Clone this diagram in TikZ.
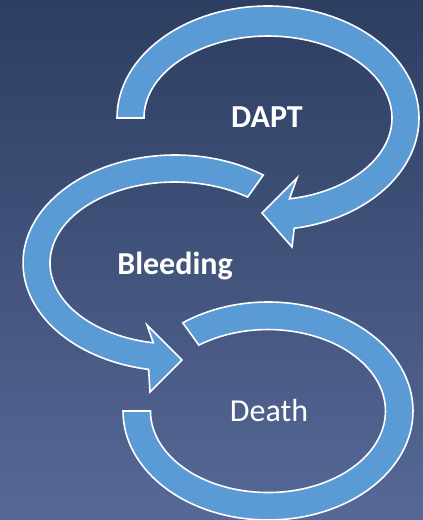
\documentclass[tikz,border=0pt]{standalone}
\usepackage{fontspec}
\setmainfont{Carlito}
\usepackage{tikz}
\definecolor{slidetop}{RGB}{45,62,97}
\definecolor{slidebot}{RGB}{86,104,150}
\definecolor{ringblue}{RGB}{91,155,213}
\tikzstyle{band} = [fill=ringblue, draw=white, line width=1.6pt, line join=miter]
\tikzstyle{word} = [text=white, anchor=base, inner sep=0pt, font=\fontsize{32}{38}\selectfont]

\begin{document}
\begin{tikzpicture}[x=1pt, y=1pt]
	\useasboundingbox (0,0) rectangle (423,520);
	\shade[top color=slidetop, bottom color=slidebot] (0,0) rectangle (423,520);
	\coordinate (dapt) at (267,392);
	\coordinate (bleed) at (175,245);
	\coordinate (death) at (269,98);
	\draw[band] (117,402)
		arc[start angle=180, end angle=-80, x radius=151pt, y radius=112pt]
		-- (292,273) -- (262,307) -- (297,342)
		-- (289.5,321.2)
		arc[start angle=-80, end angle=180, x radius=124pt, y radius=82pt]
		-- cycle;
	\draw[band] (263.3,344.9)
		arc[start angle=54.5, end angle=260, x radius=152pt, y radius=108pt]
		-- (150,128) -- (182,160) -- (147,195)
		-- (153.3,177.2)
		arc[start angle=260, end angle=54.5, x radius=125pt, y radius=81pt]
		-- cycle;
	\draw[band] (123,109)
		arc[start angle=180, end angle=486, x radius=145pt, y radius=109pt]
		-- (198.9,174.9)
		arc[start angle=486, end angle=180, x radius=117.5pt, y radius=81.5pt]
		-- cycle;
	\node[word, font=\bfseries\fontsize{32}{38}\selectfont] (daptlabel) at (dapt) {DAPT};
	\node[word, font=\bfseries\fontsize{32}{38}\selectfont] (bleedlabel) at (bleed) {Bleeding};
	\node[word] (deathlabel) at (death) {Death};
\end{tikzpicture}
\end{document}
